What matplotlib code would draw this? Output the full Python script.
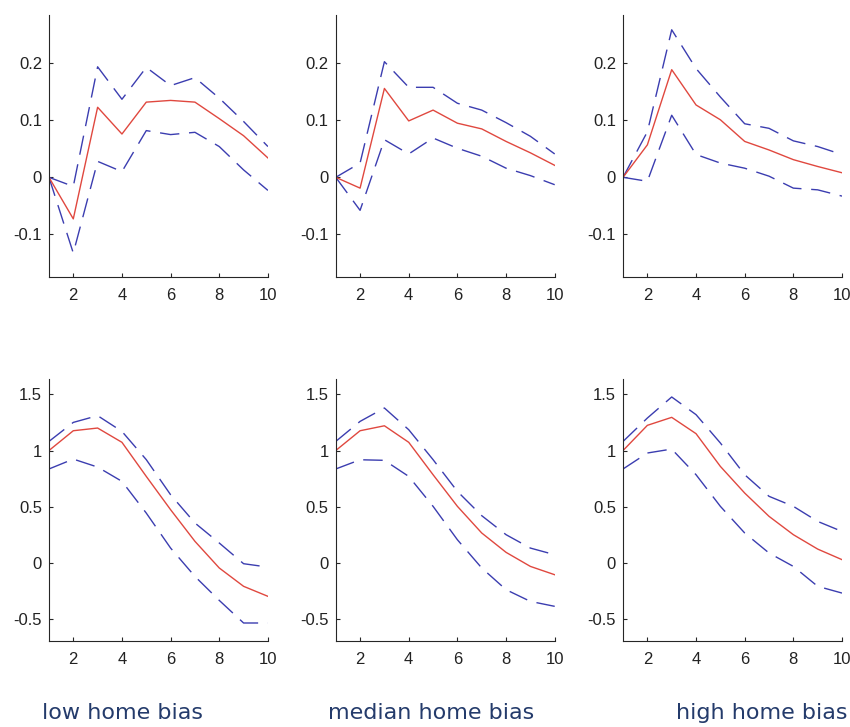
import numpy as np
import matplotlib
matplotlib.use("Agg")
import matplotlib.pyplot as plt

plt.rcParams['font.family'] = ['Liberation Sans', 'DejaVu Sans']

steps = [1, 2, 3, 4, 5, 6, 7, 8, 9, 10]
panel_titles = ['low home bias', 'median home bias', 'high home bias']

# top row: response of first variable
top_mid = [
    [0, -0.073, 0.123, 0.076, 0.132, 0.135, 0.132, 0.103, 0.073, 0.034],
    [0, -0.019, 0.156, 0.099, 0.118, 0.095, 0.085, 0.063, 0.043, 0.021],
    [0, 0.057, 0.189, 0.127, 0.101, 0.063, 0.048, 0.031, 0.019, 0.008],
]
top_hi = [
    [0, -0.016, 0.194, 0.137, 0.193, 0.161, 0.175, 0.139, 0.098, 0.054],
    [0, 0.025, 0.203, 0.158, 0.158, 0.130, 0.118, 0.096, 0.072, 0.041],
    [0, 0.080, 0.259, 0.191, 0.141, 0.094, 0.086, 0.064, 0.054, 0.040],
]
top_lo = [
    [0, -0.133, 0.028, 0.010, 0.082, 0.075, 0.079, 0.054, 0.013, -0.023],
    [0, -0.058, 0.066, 0.041, 0.069, 0.051, 0.037, 0.016, 0.003, -0.013],
    [0, -0.007, 0.109, 0.040, 0.025, 0.016, 0.002, -0.019, -0.022, -0.033],
]

# bottom row: response of second variable
bot_mid = [
    [1.0, 1.176, 1.200, 1.073, 0.770, 0.474, 0.193, -0.044, -0.207, -0.296],
    [1.0, 1.176, 1.220, 1.073, 0.785, 0.504, 0.267, 0.095, -0.030, -0.104],
    [1.0, 1.224, 1.295, 1.150, 0.859, 0.622, 0.415, 0.252, 0.124, 0.030],
]
bot_hi = [
    [1.081, 1.250, 1.310, 1.170, 0.919, 0.607, 0.356, 0.178, -0.006, -0.036],
    [1.081, 1.259, 1.378, 1.185, 0.919, 0.637, 0.421, 0.252, 0.133, 0.074],
    [1.081, 1.289, 1.476, 1.319, 1.067, 0.785, 0.593, 0.504, 0.370, 0.281],
]
bot_lo = [
    [0.836, 0.924, 0.853, 0.726, 0.444, 0.133, -0.119, -0.332, -0.533, -0.533],
    [0.836, 0.918, 0.913, 0.770, 0.504, 0.207, -0.044, -0.237, -0.341, -0.385],
    [0.836, 0.978, 1.013, 0.785, 0.504, 0.267, 0.089, -0.030, -0.207, -0.267],
]

red = '#e0483f'
blue = '#3b3db0'

fig = plt.figure(figsize=(8.5, 7.27), dpi=100)

lefts = [0.0576, 0.395, 0.733]
w, h = 0.2576, 0.3604


def style(ax, ylim, yticks, yticklabels):
    ax.set_xlim(1, 10)
    ax.set_ylim(*ylim)
    ax.set_xticks([2, 4, 6, 8, 10])
    ax.set_yticks(yticks)
    ax.set_yticklabels(yticklabels)
    for s in ['top', 'right']:
        ax.spines[s].set_visible(False)
    for s in ['left', 'bottom']:
        ax.spines[s].set_color('#262626')
        ax.spines[s].set_linewidth(0.8)
    ax.tick_params(direction='in', length=3, width=0.8, color='#262626',
                   labelsize=12, labelcolor='#222222')
    ax.tick_params(axis='x', pad=8)
    ax.tick_params(axis='y', pad=5)


for i in range(3):
    ax = fig.add_axes([lefts[i], 0.619, w, h])
    ax.plot(steps, top_hi[i], color=blue, lw=1, dashes=(14, 7))
    ax.plot(steps, top_lo[i], color=blue, lw=1, dashes=(14, 7))
    ax.plot(steps, top_mid[i], color=red, lw=1)
    style(ax, (-0.175, 0.285), [-0.1, 0, 0.1, 0.2], ['-0.1', '0', '0.1', '0.2'])

    ax = fig.add_axes([lefts[i], 0.1183, w, h])
    ax.plot(steps, bot_hi[i], color=blue, lw=1, dashes=(14, 7))
    ax.plot(steps, bot_lo[i], color=blue, lw=1, dashes=(14, 7))
    ax.plot(steps, bot_mid[i], color=red, lw=1)
    style(ax, (-0.693, 1.636), [-0.5, 0, 0.5, 1, 1.5], ['-0.5', '0', '0.5', '1', '1.5'])

label_x = [122 / 850, 431 / 850, 762 / 850]
for x, t in zip(label_x, panel_titles):
    fig.text(x, 1 - 713 / 727, t, ha='center', va='center', fontsize=16,
             color='#243b6b', family=['Liberation Sans Narrow', 'DejaVu Sans'])

fig.savefig('out.png', dpi=100)
